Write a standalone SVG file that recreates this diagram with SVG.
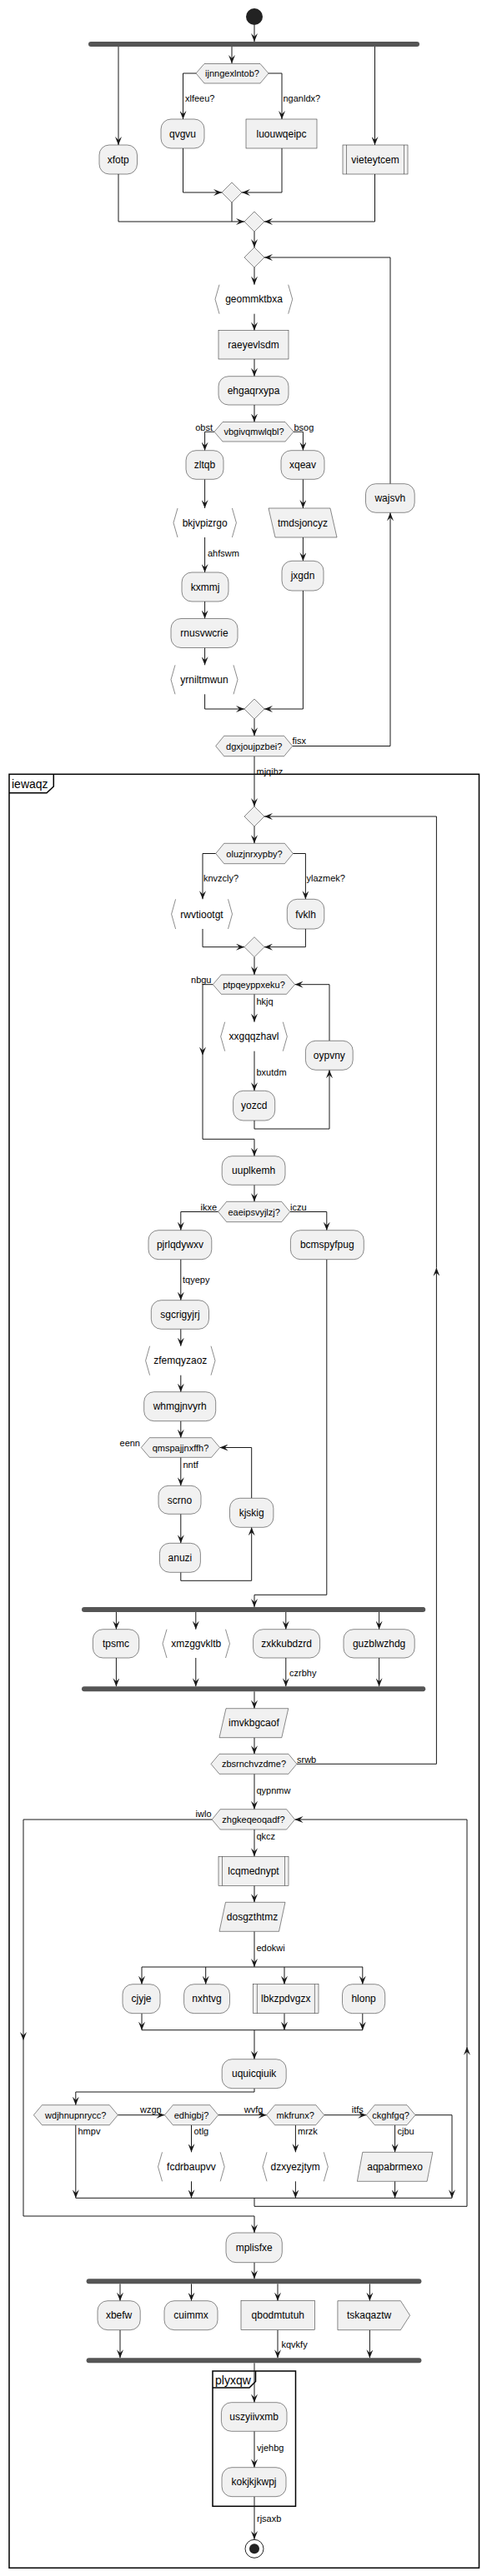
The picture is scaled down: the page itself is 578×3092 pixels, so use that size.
<svg xmlns="http://www.w3.org/2000/svg" width="578" height="3092" viewBox="0 0 578 3092">
<style>
.b{fill:#F1F1F1;stroke:#181818;stroke-width:0.5}
.br{fill:none;stroke:#181818;stroke-width:0.5}
.c{fill:none;stroke:#181818;stroke-width:1}
.a{marker-end:url(#ah)}
.bar{fill:#555555}
.fr{fill:none;stroke:#000;stroke-width:1.5}
text{font-family:"Liberation Sans",Arial,sans-serif;fill:#000}
.t{font-size:12px;text-anchor:middle}
.h{font-size:11px;text-anchor:middle}
.l{font-size:11px}
.le{font-size:11px;text-anchor:end}
.ft{font-size:14px}
</style>
<defs>
<marker id="ah" markerUnits="userSpaceOnUse" markerWidth="10" markerHeight="8" viewBox="0 0 10 8" refX="10" refY="4" orient="auto"><path d="M0,0 L10,4 L0,8 L4,4 Z" fill="#181818"/></marker>
</defs>
<rect width="578" height="3092" fill="#fff"/>

<g id="frame-iewaqz">
<rect class="fr" x="11" y="929.3" width="563.5" height="2153"/>
<path class="fr" d="M11,951.7 H56 L64.3,944 V929.3"/>
<text class="ft" x="14" y="945.5">iewaqz</text>
</g>
<g id="frame-plyxqw">
<rect class="fr" x="255" y="2846" width="99.5" height="162.3"/>
<path class="fr" d="M255,2866 H299 L306.5,2858.5 V2846"/>
<text class="ft" x="258" y="2861.5">plyxqw</text>
</g>

<g id="connectors">
<path class="c a" d="M305,30 V50"/>
<path class="c a" d="M142,56 V174"/>
<path class="c a" d="M278,56 V76"/>
<path class="c a" d="M449.5,56 V174"/>
<path class="c a" d="M235,88 H219.5 V143"/>
<path class="c a" d="M322,88 H338 V143"/>
<path class="c a" d="M219.5,178 V231 H266"/>
<path class="c a" d="M338,178 V231 H290"/>
<path class="c a" d="M142,209 V266 H293"/>
<path class="c" d="M278,243 V266"/>
<path class="c a" d="M449.5,209 V266 H317"/>
<path class="c a" d="M305,278 V297"/>
<path class="c a" d="M468,580.7 V309 H317"/>
<path class="c a" d="M305,321 V341.7"/>
<path class="c a" d="M305,376.7 V396.7"/>
<path class="c a" d="M305,431 V451.7"/>
<path class="c a" d="M305,486 V506.5"/>
<path class="c a" d="M257,518.3 H245.6 V540.7"/>
<path class="c a" d="M352,518.3 H363.4 V540.7"/>
<path class="c a" d="M245.6,575.3 V610"/>
<path class="c a" d="M245.6,645 V687"/>
<path class="c a" d="M245.6,722 V742.5"/>
<path class="c a" d="M245.6,777.5 V798.3"/>
<path class="c a" d="M245.6,833.3 V851 H293"/>
<path class="c a" d="M363.4,575.3 V610"/>
<path class="c a" d="M363.4,645 V673.3"/>
<path class="c a" d="M363.4,709 V851 H317"/>
<path class="c a" d="M305,863 V883.3"/>
<path class="c a" d="M350.7,895.5 H468 V615.3"/>
<path class="c a" d="M305,907.7 V968"/>
<path class="c a" d="M355.9,2117.3 H523.4 V1521.7"/>
<path class="c a" d="M523.4,1521.7 V980 H317"/>
<path class="c a" d="M305,992 V1012.3"/>
<path class="c a" d="M258.7,1024.5 H243 V1079.3"/>
<path class="c a" d="M351.4,1024.5 H366.4 V1079.3"/>
<path class="c a" d="M243,1115 V1136.7 H293"/>
<path class="c a" d="M366.4,1115 V1136.7 H317"/>
<path class="c a" d="M305,1148.7 V1170"/>
<path class="c a" d="M305,1193.3 V1226.7"/>
<path class="c a" d="M305,1261.7 V1309.3"/>
<path class="c a" d="M305,1345 V1355 H395 V1284.3"/>
<path class="c a" d="M395,1249.3 V1181.7 H353.6"/>
<path class="c a" d="M255.3,1181.7 H243 V1266.7"/>
<path class="c a" d="M243,1266.7 V1367.3 H305 V1387.7"/>
<path class="c a" d="M305,1422.3 V1442.3"/>
<path class="c a" d="M261.7,1454.5 H216.8 V1476.7"/>
<path class="c a" d="M347.7,1454.5 H391.8 V1476.7"/>
<path class="c a" d="M216.8,1511.7 V1560.7"/>
<path class="c a" d="M216.8,1595.3 V1615.7"/>
<path class="c a" d="M216.8,1650.7 V1670.7"/>
<path class="c a" d="M216.8,1705.7 V1725.7"/>
<path class="c a" d="M216.8,1749.3 V1783.3"/>
<path class="c a" d="M216.8,1817.3 V1852.3"/>
<path class="c a" d="M216.8,1887.3 V1897.3 H301.7 V1833.3"/>
<path class="c a" d="M301.7,1798.3 V1737.5 H263.6"/>
<path class="c a" d="M391.8,1511.7 V1914.3 H305 V1929"/>
<path class="c a" d="M139.4,1935 V1955.7"/>
<path class="c a" d="M234.8,1935 V1955.7"/>
<path class="c a" d="M342.8,1935 V1955.7"/>
<path class="c a" d="M454.6,1935 V1955.7"/>
<path class="c a" d="M139.4,1990 V2024.3"/>
<path class="c a" d="M234.8,1990 V2024.3"/>
<path class="c a" d="M342.8,1990 V2024.3"/>
<path class="c a" d="M454.6,1990 V2024.3"/>
<path class="c a" d="M305,2030.3 V2050.7"/>
<path class="c a" d="M305,2085.7 V2105.3"/>
<path class="c a" d="M305,2129.3 V2171.7"/>
<path class="c a" d="M305,2196 V2228.3"/>
<path class="c a" d="M305,2263.3 V2283.3"/>
<path class="c a" d="M305,2318.3 V2361"/>
<path class="c" d="M170,2361 H435"/>
<path class="c a" d="M170,2361 V2381.7"/>
<path class="c a" d="M246.7,2361 V2381.7"/>
<path class="c a" d="M341,2361 V2381.7"/>
<path class="c a" d="M434.8,2361 V2381.7"/>
<path class="c a" d="M170,2416.7 V2436.7"/>
<path class="c a" d="M341,2416.7 V2436.7"/>
<path class="c a" d="M434.8,2416.7 V2436.7"/>
<path class="c" d="M170,2436.7 H435"/>
<path class="c a" d="M305,2436.7 V2471.7"/>
<path class="c a" d="M305,2506.7 V2511 H90.8 V2526.7"/>
<path class="c a" d="M141.3,2538.7 H197.4"/>
<path class="c a" d="M261.7,2538.7 H319.6"/>
<path class="c a" d="M388.8,2538.7 H439.3"/>
<path class="c a" d="M498,2538.7 H542 V2638.3"/>
<path class="c a" d="M90.8,2550.7 V2638.3"/>
<path class="c a" d="M229.5,2550.7 V2583.3"/>
<path class="c a" d="M229.5,2618.3 V2638.3"/>
<path class="c a" d="M354.4,2550.7 V2583.3"/>
<path class="c a" d="M354.4,2618.3 V2638.3"/>
<path class="c a" d="M473.6,2550.7 V2583.3"/>
<path class="c a" d="M473.6,2618.3 V2638.3"/>
<path class="c" d="M90.8,2638.3 H542"/>
<path class="c a" d="M305,2638.3 V2648.3 H560 V2456.7"/>
<path class="c a" d="M560,2456.7 V2184 H353.6"/>
<path class="c a" d="M254.2,2184 H28 V2449"/>
<path class="c a" d="M28,2449 V2660 H305 V2680"/>
<path class="c a" d="M305,2715.7 V2735.3"/>
<path class="c a" d="M144,2741.3 V2761.7"/>
<path class="c a" d="M229.5,2741.3 V2761.7"/>
<path class="c a" d="M333,2741.3 V2761.7"/>
<path class="c a" d="M443.4,2741.3 V2761.7"/>
<path class="c a" d="M144,2796.7 V2830.3"/>
<path class="c a" d="M333,2796.7 V2830.3"/>
<path class="c a" d="M443.4,2796.7 V2830.3"/>
<path class="c a" d="M305,2836.3 V2883.7"/>
<path class="c a" d="M305,2918.3 V2961.7"/>
<path class="c a" d="M305,2996.7 V3048"/>
<text class="l" x="222" y="122">xlfeeu?</text>
<text class="l" x="339.5" y="122">nganldx?</text>
<text class="le" x="255" y="517">obst</text>
<text class="l" x="352.5" y="517">bsog</text>
<text class="l" x="249" y="668">ahfswm</text>
<text class="l" x="350.5" y="893">fisx</text>
<text class="l" x="307.5" y="930">mjqihz</text>
<text class="l" x="244" y="1058">knvzcly?</text>
<text class="l" x="367.5" y="1058">ylazmek?</text>
<text class="le" x="253.5" y="1179.5">nbgu</text>
<text class="l" x="307.5" y="1205.5">hkjq</text>
<text class="l" x="307.5" y="1290.5">bxutdm</text>
<text class="le" x="260" y="1452.5">ikxe</text>
<text class="l" x="348" y="1452.5">iczu</text>
<text class="l" x="219" y="1540">tqyepy</text>
<text class="le" x="168" y="1735.5">eenn</text>
<text class="l" x="219.5" y="1761.5">nntf</text>
<text class="l" x="347" y="2012">czrbhy</text>
<text class="l" x="356" y="2115.5">srwb</text>
<text class="l" x="307.5" y="2153">qypnmw</text>
<text class="le" x="253.5" y="2181">iwlo</text>
<text class="l" x="307.5" y="2208">qkcz</text>
<text class="l" x="307.5" y="2341.5">edokwi</text>
<text class="l" x="168" y="2536">wzgn</text>
<text class="l" x="292.7" y="2536">wvfg</text>
<text class="l" x="421.7" y="2536">itfs</text>
<text class="l" x="93.5" y="2562">hmpv</text>
<text class="l" x="232.5" y="2562">otlg</text>
<text class="l" x="357" y="2562">mrzk</text>
<text class="l" x="476.5" y="2562">cjbu</text>
<text class="l" x="337.5" y="2818">kqvkfy</text>
<text class="l" x="308" y="2941.5">vjehbg</text>
<text class="l" x="308" y="3027">rjsaxb</text>
</g>

<g id="start"><circle cx="305" cy="20" r="10" fill="#222"/></g>
<g id="fork1"><rect class="bar" x="106" y="50" width="397" height="6" rx="3"/></g>
<g id="xfotp"><rect class="b" x="119" y="174" width="45.5" height="35" rx="12"/><text class="t" x="141.8" y="195.5">xfotp</text></g>
<g id="ijnngexlntob"><polygon class="b" points="235,88 245,76.5 312,76.5 322,88 312,100 245,100"/><text class="h" x="278.5" y="92">ijnngexlntob?</text></g>
<g id="qvgvu"><rect class="b" x="193" y="143" width="52" height="35" rx="12"/><text class="t" x="219" y="164.5">qvgvu</text></g>
<g id="luouwqeipc"><rect class="b" x="295" y="143" width="85" height="35"/><text class="t" x="337.5" y="164.5">luouwqeipc</text></g>
<g id="merge1"><polygon class="b" points="278,219 290,231 278,243 266,231"/></g>
<g id="vieteytcem"><rect class="b" x="411" y="174" width="78" height="35"/><path class="br" d="M415.5,174 V209 M484.5,174 V209"/><text class="t" x="450" y="195.5">vieteytcem</text></g>
<g id="merge2"><polygon class="b" points="305,254 317,266 305,278 293,266"/></g>
<g id="loop1"><polygon class="b" points="305,297 317,309 305,321 293,309"/></g>
<g id="geommktbxa"><path class="br" d="M263,341.7 L258,359.2 L263,376.7 M345.7,341.7 L350.7,359.2 L345.7,376.7"/><text class="t" x="304.5" y="363.2">geommktbxa</text></g>
<g id="raeyevlsdm"><rect class="b" x="262" y="396.7" width="84" height="34.3"/><text class="t" x="304" y="418">raeyevlsdm</text></g>
<g id="ehgaqrxypa"><rect class="b" x="262" y="451.7" width="84" height="34.3" rx="12"/><text class="t" x="304" y="473">ehgaqrxypa</text></g>
<g id="vbgivqmwlqbl"><polygon class="b" points="257,518.3 267,506.5 342,506.5 352,518.3 342,530 267,530"/><text class="h" x="304.5" y="522.3">vbgivqmwlqbl?</text></g>
<g id="zltqb"><rect class="b" x="223" y="540.7" width="45" height="34.6" rx="12"/><text class="t" x="245.5" y="562">zltqb</text></g>
<g id="bkjvpizrgo"><path class="br" d="M213,610 L208,627.5 L213,645 M278.4,610 L283.4,627.5 L278.4,645"/><text class="t" x="245.7" y="631.5">bkjvpizrgo</text></g>
<g id="kxmmj"><rect class="b" x="218" y="687" width="56" height="35" rx="12"/><text class="t" x="246" y="708.5">kxmmj</text></g>
<g id="rnusvwcrie"><rect class="b" x="205" y="742.5" width="80" height="35" rx="12"/><text class="t" x="245" y="764">rnusvwcrie</text></g>
<g id="yrniltmwun"><path class="br" d="M210,798.3 L205,815.8 L210,833.3 M280,798.3 L285,815.8 L280,833.3"/><text class="t" x="245" y="819.8">yrniltmwun</text></g>
<g id="xqeav"><rect class="b" x="337" y="540.7" width="52" height="34.6" rx="12"/><text class="t" x="363" y="562">xqeav</text></g>
<g id="tmdsjoncyz"><polygon class="b" points="322,610 396,610 404,645 330,645"/><text class="t" x="363" y="631.5">tmdsjoncyz</text></g>
<g id="jxgdn"><rect class="b" x="338" y="673.3" width="50" height="35.7" rx="12"/><text class="t" x="363" y="695">jxgdn</text></g>
<g id="merge3"><polygon class="b" points="305,839 317,851 305,863 293,851"/></g>
<g id="dgxjoujpzbei"><polygon class="b" points="258.7,895.5 268.7,883.3 340.7,883.3 350.7,895.5 340.7,907.7 268.7,907.7"/><text class="h" x="304.7" y="899.5">dgxjoujpzbei?</text></g>
<g id="wajsvh"><rect class="b" x="438.5" y="580.7" width="58.7" height="34.6" rx="12"/><text class="t" x="467.8" y="602">wajsvh</text></g>
<g id="loop2"><polygon class="b" points="305,968 317,980 305,992 293,980"/></g>
<g id="oluzjnrxypby"><polygon class="b" points="258.7,1024.5 268.7,1012.3 341.4,1012.3 351.4,1024.5 341.4,1036.7 268.7,1036.7"/><text class="h" x="305" y="1028.5">oluzjnrxypby?</text></g>
<g id="rwvtiootgt"><path class="br" d="M210.6,1079.3 L205.6,1097.2 L210.6,1115 M273.5,1079.3 L278.5,1097.2 L273.5,1115"/><text class="t" x="242" y="1101.5">rwvtiootgt</text></g>
<g id="fvklh"><rect class="b" x="344.3" y="1079.3" width="44.5" height="35.7" rx="12"/><text class="t" x="366.5" y="1101.5">fvklh</text></g>
<g id="merge4"><polygon class="b" points="305,1124.7 317,1136.7 305,1148.7 293,1136.7"/></g>
<g id="ptpqeyppxeku"><polygon class="b" points="255.3,1181.7 265.3,1170 343.6,1170 353.6,1181.7 343.6,1193.3 265.3,1193.3"/><text class="h" x="304.5" y="1185.7">ptpqeyppxeku?</text></g>
<g id="xxgqqzhavl"><path class="br" d="M269.7,1226.7 L264.7,1244.2 L269.7,1261.7 M339.3,1226.7 L344.3,1244.2 L339.3,1261.7"/><text class="t" x="304.5" y="1248.2">xxgqqzhavl</text></g>
<g id="yozcd"><rect class="b" x="279.6" y="1309.3" width="50.1" height="35.7" rx="12"/><text class="t" x="304.7" y="1331">yozcd</text></g>
<g id="oypvny"><rect class="b" x="366.4" y="1249.3" width="56.8" height="35" rx="12"/><text class="t" x="394.8" y="1270.8">oypvny</text></g>
<g id="uuplkemh"><rect class="b" x="266.2" y="1387.7" width="75.8" height="34.6" rx="12"/><text class="t" x="304.1" y="1409">uuplkemh</text></g>
<g id="eaeipsvyjlzj"><polygon class="b" points="261.7,1454.5 271.7,1442.3 337.7,1442.3 347.7,1454.5 337.7,1466.7 271.7,1466.7"/><text class="h" x="304.7" y="1458.5">eaeipsvyjlzj?</text></g>
<g id="pjrlqdywxv"><rect class="b" x="178" y="1476.7" width="75.8" height="35" rx="12"/><text class="t" x="215.9" y="1498.2">pjrlqdywxv</text></g>
<g id="bcmspyfpug"><rect class="b" x="348.4" y="1476.7" width="87.9" height="35" rx="12"/><text class="t" x="392.3" y="1498.2">bcmspyfpug</text></g>
<g id="sgcrigyjrj"><rect class="b" x="181.3" y="1560.7" width="69.2" height="34.6" rx="12"/><text class="t" x="215.9" y="1582">sgcrigyjrj</text></g>
<g id="zfemqyzaoz"><path class="br" d="M179.6,1615.7 L174.6,1633.2 L179.6,1650.7 M253,1615.7 L258,1633.2 L253,1650.7"/><text class="t" x="216.3" y="1637.2">zfemqyzaoz</text></g>
<g id="whmgjnvyrh"><rect class="b" x="172.7" y="1670.7" width="86" height="35" rx="12"/><text class="t" x="215.7" y="1692.2">whmgjnvyrh</text></g>
<g id="qmspajjnxffh"><polygon class="b" points="169.3,1737.5 179.3,1725.7 253.6,1725.7 263.6,1737.5 253.6,1749.3 179.3,1749.3"/><text class="h" x="216.5" y="1741.5">qmspajjnxffh?</text></g>
<g id="scrno"><rect class="b" x="190" y="1783.3" width="51" height="34" rx="12"/><text class="t" x="215.5" y="1804.5">scrno</text></g>
<g id="anuzi"><rect class="b" x="191.4" y="1852.3" width="49" height="35" rx="12"/><text class="t" x="215.9" y="1873.8">anuzi</text></g>
<g id="kjskig"><rect class="b" x="275.5" y="1798.3" width="52.4" height="35" rx="12"/><text class="t" x="301.7" y="1819.8">kjskig</text></g>
<g id="fork2"><rect class="bar" x="98" y="1929" width="412.3" height="6" rx="3"/></g>
<g id="tpsmc"><rect class="b" x="111.4" y="1955.7" width="55.3" height="34.3" rx="12"/><text class="t" x="139" y="1977">tpsmc</text></g>
<g id="xmzggvkltb"><path class="br" d="M200,1955.7 L195,1972.9 L200,1990 M270.5,1955.7 L275.5,1972.9 L270.5,1990"/><text class="t" x="235.2" y="1977">xmzggvkltb</text></g>
<g id="zxkkubdzrd"><rect class="b" x="303.6" y="1955.7" width="80" height="34.3" rx="12"/><text class="t" x="343.6" y="1977">zxkkubdzrd</text></g>
<g id="guzblwzhdg"><rect class="b" x="412" y="1955.7" width="85.2" height="34.3" rx="12"/><text class="t" x="454.6" y="1977">guzblwzhdg</text></g>
<g id="join2"><rect class="bar" x="98" y="2024.3" width="412.3" height="6" rx="3"/></g>
<g id="imvkbgcaof"><polygon class="b" points="271,2050.7 345.8,2050.7 337.8,2085.7 263,2085.7"/><text class="t" x="304.4" y="2072.2">imvkbgcaof</text></g>
<g id="zbsrnchvzdme"><polygon class="b" points="253,2117.3 263,2105.3 345.9,2105.3 355.9,2117.3 345.9,2129.3 263,2129.3"/><text class="h" x="304.5" y="2121.3">zbsrnchvzdme?</text></g>
<g id="zhgkeqeoqadf"><polygon class="b" points="254.2,2184 264.2,2171.7 343.6,2171.7 353.6,2184 343.6,2196 264.2,2196"/><text class="h" x="303.9" y="2188">zhgkeqeoqadf?</text></g>
<g id="lcqmednypt"><rect class="b" x="262" y="2228.3" width="84" height="35"/><path class="br" d="M266.5,2228.3 V2263.3 M341.5,2228.3 V2263.3"/><text class="t" x="304" y="2249.8">lcqmednypt</text></g>
<g id="dosgzthtmz"><polygon class="b" points="270.5,2283.3 342,2283.3 334.5,2318.3 263,2318.3"/><text class="t" x="302.5" y="2304.8">dosgzthtmz</text></g>
<g id="cjyje"><rect class="b" x="147" y="2381.7" width="45" height="35" rx="12"/><text class="t" x="169.5" y="2403.2">cjyje</text></g>
<g id="nxhtvg"><rect class="b" x="220.6" y="2381.7" width="54.9" height="35" rx="12"/><text class="t" x="248" y="2403.2">nxhtvg</text></g>
<g id="lbkzpdvgzx"><rect class="b" x="303.6" y="2381.7" width="78.4" height="35"/><path class="br" d="M308.4,2381.7 V2416.7 M377.4,2381.7 V2416.7"/><text class="t" x="342.8" y="2403.2">lbkzpdvgzx</text></g>
<g id="hlonp"><rect class="b" x="410.5" y="2381.7" width="51.2" height="35" rx="12"/><text class="t" x="436.1" y="2403.2">hlonp</text></g>
<g id="uquicqiuik"><rect class="b" x="266.2" y="2471.7" width="77" height="35" rx="12"/><text class="t" x="304.7" y="2493.2">uquicqiuik</text></g>
<g id="wdjhnupnrycc"><polygon class="b" points="40.4,2538.7 50.4,2526.7 131.3,2526.7 141.3,2538.7 131.3,2550.7 50.4,2550.7"/><text class="h" x="90.8" y="2542.7">wdjhnupnrycc?</text></g>
<g id="edhigbj"><polygon class="b" points="197.4,2538.7 207.4,2526.7 251.7,2526.7 261.7,2538.7 251.7,2550.7 207.4,2550.7"/><text class="h" x="229.5" y="2542.7">edhigbj?</text></g>
<g id="mkfrunx"><polygon class="b" points="319.6,2538.7 329.6,2526.7 378.8,2526.7 388.8,2538.7 378.8,2550.7 329.6,2550.7"/><text class="h" x="354.2" y="2542.7">mkfrunx?</text></g>
<g id="ckghfgq"><polygon class="b" points="439.3,2538.7 449.3,2526.7 488,2526.7 498,2538.7 488,2550.7 449.3,2550.7"/><text class="h" x="468.6" y="2542.7">ckghfgq?</text></g>
<g id="fcdrbaupvv"><path class="br" d="M194.5,2583.3 L189.5,2600.8 L194.5,2618.3 M264.2,2583.3 L269.2,2600.8 L264.2,2618.3"/><text class="t" x="229.4" y="2604.8">fcdrbaupvv</text></g>
<g id="dzxyezjtym"><path class="br" d="M320,2583.3 L315,2600.8 L320,2618.3 M388.3,2583.3 L393.3,2600.8 L388.3,2618.3"/><text class="t" x="354.2" y="2604.8">dzxyezjtym</text></g>
<g id="aqpabrmexo"><polygon class="b" points="434.8,2583.3 518.9,2583.3 512.1,2618.3 428.4,2618.3"/><text class="t" x="473.6" y="2604.8">aqpabrmexo</text></g>
<g id="mplisfxe"><rect class="b" x="271" y="2680" width="67.3" height="35.7" rx="12"/><text class="t" x="304.7" y="2701.8">mplisfxe</text></g>
<g id="fork3"><rect class="bar" x="103.6" y="2735.3" width="401.8" height="6" rx="3"/></g>
<g id="xbefw"><rect class="b" x="117" y="2761.7" width="51.2" height="35" rx="12"/><text class="t" x="142.6" y="2783.2">xbefw</text></g>
<g id="cuimmx"><rect class="b" x="197" y="2761.7" width="64" height="35" rx="12"/><text class="t" x="229" y="2783.2">cuimmx</text></g>
<g id="qbodmtutuh"><rect class="b" x="289" y="2761.7" width="88.6" height="35"/><text class="t" x="333.3" y="2783.2">qbodmtutuh</text></g>
<g id="tskaqaztw"><polygon class="b" points="404.9,2761.7 480.4,2761.7 491.6,2779.2 480.4,2796.7 404.9,2796.7"/><text class="t" x="442.6" y="2783.2">tskaqaztw</text></g>
<g id="join3"><rect class="bar" x="103.6" y="2830.3" width="401.8" height="6" rx="3"/></g>
<g id="uszyiivxmb"><rect class="b" x="265.4" y="2883.7" width="78.6" height="34.6" rx="12"/><text class="t" x="304.7" y="2905">uszyiivxmb</text></g>
<g id="kokjkjkwpj"><rect class="b" x="266" y="2961.7" width="77" height="35" rx="12"/><text class="t" x="304.5" y="2983.2">kokjkjkwpj</text></g>
<g id="end"><circle cx="305" cy="3059.3" r="11" fill="#fff" stroke="#222" stroke-width="1"/><circle cx="305" cy="3059.3" r="6" fill="#222"/></g>
</svg>
